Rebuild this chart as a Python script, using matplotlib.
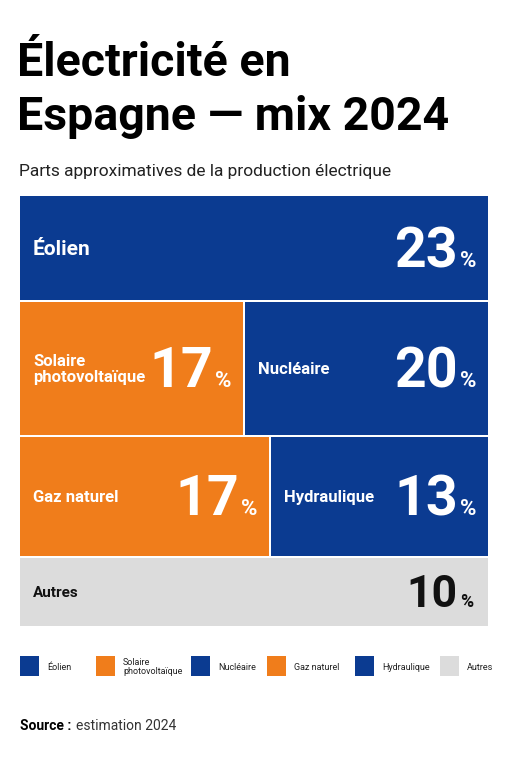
import numpy as np
import matplotlib.pyplot as plt
from matplotlib.patches import Rectangle

# data
labels = ["Éolien", "Solaire\nphotovoltaïque", "Nucléaire", "Gaz naturel", "Hydraulique", "Autres"]
values = [23, 17, 20, 17, 13, 10]
rows = [[0], [1, 2], [3, 4], [5]]

BLUE = "#0b3b91"
ORANGE = "#f07d1b"
GREY = "#dcdcdc"
colors = [BLUE, ORANGE, BLUE, ORANGE, BLUE, GREY]

COND = ["Roboto", "DejaVu Sans"]

fig = plt.figure(figsize=(5.11, 7.68), dpi=100)
ax = fig.add_axes([0, 0, 1, 1])
ax.set_xlim(0, 511)
ax.set_ylim(768, 0)
ax.axis("off")

ax.text(17, 76, "Électricité en", fontsize=33.5, fontweight="bold", family=COND, va="baseline")
ax.text(17, 130, "Espagne — mix 2024", fontsize=33.5, fontweight="bold", family=COND, va="baseline")
ax.text(19, 176, "Parts approximatives de la production électrique", fontsize=12.5,
        color="#222222", va="baseline", family=COND)

# treemap-like layout: rows scaled by sqrt of totals
x0, x1, y0, y1, gap = 20, 490, 196, 628, 2
row_w = np.array([np.sqrt(sum(values[i] for i in r)) for r in rows])
row_h = row_w / row_w.sum() * (y1 - y0)
y = y0
for r, h in zip(rows, row_h):
    ws = np.array([np.sqrt(values[i]) for i in r])
    ws = ws / ws.sum() * (x1 - x0)
    x = x0
    for i, w in zip(r, ws):
        ax.add_patch(Rectangle((x, y), w - gap, h - gap, facecolor=colors[i], edgecolor="none"))
        tc = "#111111" if colors[i] == GREY else "white"
        grey = colors[i] == GREY
        lab_fs = 11 if grey else (15 if len(r) == 1 else 12)
        ax.text(x + 13, y + h / 2, labels[i], color=tc, fontsize=lab_fs, fontweight="bold",
                family=COND, va="center", ha="left", linespacing=1.15)
        num_fs = 32 if grey else 40
        px = x + w - 32
        base = y + h / 2 + num_fs * 0.45
        ax.text(px, base, f"{values[i]}", color=tc, fontsize=num_fs,
                fontweight="bold", family=COND, ha="right", va="baseline")
        ax.text(px + 2, base, "%", color=tc, fontsize=num_fs * 0.4,
                fontweight="bold", family=COND, ha="left", va="baseline")
        x += w
    y += h

# legend
lx = [20, 96, 191, 267, 355, 440]
for i, lab in enumerate(labels):
    ax.add_patch(Rectangle((lx[i], 656), 19, 20, facecolor=colors[i], edgecolor="none"))
    ax.text(lx[i] + 27, 667, lab, fontsize=6.5, family=COND, va="center", ha="left",
            color="#222222", linespacing=1.0)

ax.text(20, 726, "Source :", fontsize=10, fontweight="bold", family=COND, va="center")
ax.text(76, 726, "estimation 2024", fontsize=10, family=COND, va="center", color="#333333")

fig.savefig("out.png", dpi=100)
